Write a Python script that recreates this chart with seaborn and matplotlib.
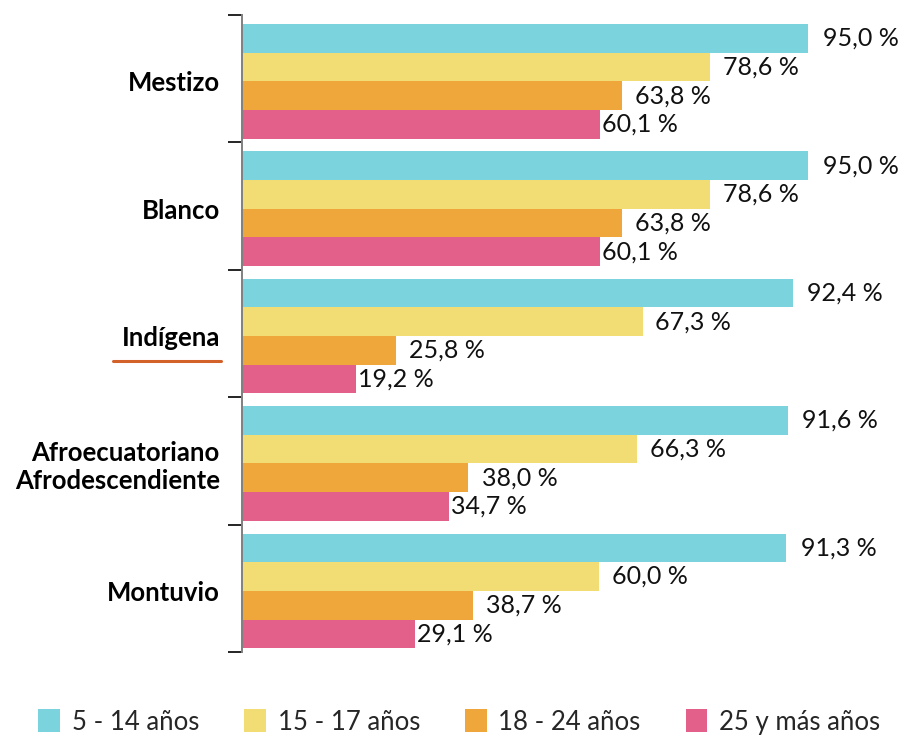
import matplotlib
matplotlib.use("Agg")
import matplotlib.pyplot as plt
from matplotlib.patches import Patch
from matplotlib.lines import Line2D
import seaborn as sns
import pandas as pd
import numpy as np

# Tasa de asistencia por autoidentificación étnica y grupo de edad
grupos = ["Mestizo", "Blanco", "Indígena", "Afroecuatoriano\nAfrodescendiente", "Montuvio"]
edades = ["5 - 14 años", "15 - 17 años", "18 - 24 años", "25 y más años"]
v_5_14 = [95.0, 95.0, 92.4, 91.6, 91.3]
v_15_17 = [78.6, 78.6, 67.3, 66.3, 60.0]
v_18_24 = [63.8, 63.8, 25.8, 38.0, 38.7]
v_25_mas = [60.1, 60.1, 19.2, 34.7, 29.1]

colores = ["#7BD3DD", "#F2DD75", "#EFA73C", "#E3608A"]

series = [v_5_14, v_15_17, v_18_24, v_25_mas]
df = pd.DataFrame(
    [(g, e, s[i]) for e, s in zip(edades, series) for i, g in enumerate(grupos)],
    columns=["grupo", "edad", "valor"],
)

sns.set_theme(style="white")
plt.rcParams["font.family"] = ["Lato", "DejaVu Sans"]

fig = plt.figure(figsize=(9.04, 7.42), dpi=100)
ax = fig.add_axes([242 / 904, 1 - 652 / 742, (895 - 242) / 904, (652 - 15) / 742])

sns.barplot(
    data=df, y="grupo", x="valor", hue="edad", order=grupos, hue_order=edades,
    palette=colores, orient="h", width=0.9, saturation=1, ax=ax, legend=False,
    edgecolor="none", linewidth=0,
)

# bars sit slightly low inside each group band
shift = 0.02
ax.set_xlim(0, 109.6)
ax.set_ylim(len(grupos) - 0.5 - shift, -0.5 - shift)
ax.set_xlabel("")
ax.set_ylabel("")
ax.set_xticks([])

# Value labels to the right of each bar (padding in points)
pads = [10.5, 9, 9.5, 1.5]
for cont, pad in zip(ax.containers, pads):
    etiquetas = [f"{b.get_width():.1f}".replace(".", ",") + " %" for b in cont]
    ax.bar_label(cont, labels=etiquetas, padding=pad, fontsize=18,
                 color="#111111", label_type="edge")

# Category labels and group separators
ax.set_yticks(range(len(grupos)))
ax.set_yticklabels(grupos, fontsize=18.5, fontweight="bold", color="black",
                   linespacing=1.2)
ax.tick_params(axis="y", which="major", length=0, pad=16)
ax.set_yticks(np.arange(-0.5, len(grupos)) - shift, minor=True)
ax.tick_params(axis="y", which="minor", length=10, width=1.2, color="black", left=True)

for s in ["top", "right", "bottom"]:
    ax.spines[s].set_visible(False)
ax.spines["left"].set_color("#808080")
ax.spines["left"].set_linewidth(1.4)

# Highlight under "Indígena"
fig.add_artist(Line2D([113 / 904, 221 / 904], [1 - 361 / 742, 1 - 361 / 742],
                      color="#D2622A", linewidth=2.2))

# Legend along the bottom edge
handles = [Patch(facecolor=c, edgecolor="none") for c in colores]
fig.legend(handles, edades, loc="lower center", bbox_to_anchor=(0.508, -0.004),
           ncol=4, frameon=False, fontsize=18.5, handlelength=0.85, handleheight=1.0,
           handletextpad=0.45, columnspacing=1.75, borderaxespad=0)

fig.savefig("out.png", dpi=100)
